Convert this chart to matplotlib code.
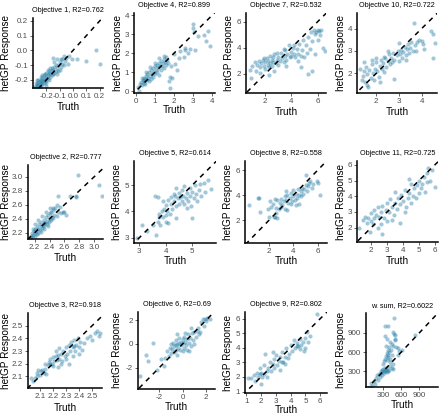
import numpy as np
import matplotlib.pyplot as plt

plt.rcParams['font.family'] = ['Liberation Sans', 'DejaVu Sans']
plt.rcParams['axes.unicode_minus'] = False

# ---- data (truth, hetGP response) ----
obj1_truth = [-0.29,-0.28,-0.28,-0.27,-0.27,-0.26,-0.26,-0.26,-0.25,-0.25,-0.25,-0.24,-0.24,-0.24,-0.24,-0.23,-0.23,-0.23,-0.22,-0.22,-0.22,-0.21,-0.21,-0.21,-0.2,-0.2,-0.2,-0.2,-0.19,-0.19,-0.19,-0.18,-0.18,-0.18,-0.17,-0.17,-0.16,-0.16,-0.15,-0.15,-0.14,-0.14,-0.13,-0.13,-0.12,-0.12,-0.11,-0.1,-0.1,-0.09,-0.08,-0.08,-0.07,-0.06,-0.05,-0.04,-0.03,-0.01,0.03,0.1,0.17,0.2,-0.17,-0.14,-0.11,-0.27,-0.23,-0.2,-0.16,-0.09,-0.15,-0.12,-0.07]
obj1_pred = [-0.25,-0.24,-0.22,-0.25,-0.23,-0.24,-0.22,-0.2,-0.25,-0.23,-0.21,-0.24,-0.22,-0.2,-0.18,-0.23,-0.21,-0.19,-0.22,-0.2,-0.17,-0.21,-0.19,-0.16,-0.22,-0.2,-0.18,-0.15,-0.19,-0.17,-0.13,-0.2,-0.16,-0.14,-0.18,-0.15,-0.17,-0.12,-0.16,-0.13,-0.15,-0.11,-0.14,-0.1,-0.12,-0.16,-0.1,-0.13,-0.08,-0.11,-0.09,-0.06,-0.1,-0.07,-0.05,-0.09,-0.04,-0.06,-0.06,-0.07,0.0,-0.09,-0.12,-0.08,-0.14,-0.2,-0.17,-0.24,-0.14,-0.06,-0.05,-0.06,-0.04]

obj4_truth = [0.1,0.2,0.25,0.3,0.35,0.4,0.4,0.45,0.5,0.5,0.55,0.6,0.6,0.65,0.7,0.7,0.75,0.8,0.8,0.85,0.9,0.9,0.95,1.0,1.0,1.05,1.1,1.1,1.15,1.2,1.2,1.25,1.3,1.3,1.35,1.4,1.45,1.5,1.55,1.6,1.6,1.65,1.7,1.75,1.8,1.8,1.9,2.05,2.15,2.25,2.5,2.55,2.75,2.85,3.1,3.0,3.0,3.05,3.25,3.55,3.7,3.8,3.9,0.15,0.3,0.55,0.75,1.0,1.2,1.45,1.85,2.0,2.3,2.6]
obj4_pred = [0.2,0.35,0.5,0.3,0.6,0.45,0.7,0.55,0.4,0.65,0.8,0.6,0.9,0.7,0.55,1.0,0.8,0.65,1.1,0.9,1.2,0.75,1.0,1.3,0.9,1.1,1.4,1.0,1.2,0.85,1.5,1.3,1.1,1.6,1.35,1.5,1.2,1.7,1.55,1.8,1.4,1.65,1.5,0.55,0.15,0.75,0.7,1.45,1.1,1.75,1.8,2.15,2.0,2.2,2.15,3.55,3.35,3.1,2.9,2.95,2.65,3.15,2.4,0.0,0.7,1.0,1.25,1.5,1.75,1.85,1.3,1.95,2.1,2.3]

obj7_truth = [0.8,0.9,1.0,1.2,1.3,1.4,1.5,1.6,1.6,1.7,1.8,1.9,2.0,2.0,2.1,2.2,2.2,2.3,2.3,2.4,2.4,2.5,2.5,2.6,2.7,2.7,2.8,2.9,3.0,3.0,3.1,3.2,3.3,3.4,3.5,3.5,3.6,3.7,3.8,3.9,4.0,4.0,4.1,4.2,4.3,4.4,4.5,4.6,4.7,4.7,4.8,4.9,5.0,5.1,5.2,5.3,5.3,5.4,5.5,5.6,5.6,5.7,5.8,5.9,6.0,6.1,6.2,6.3,6.4,6.6,5.8,6.0,4.2,3.4,2.9,4.5,3.6,2.6,1.9]
obj7_pred = [2.3,1.7,2.6,2.9,2.2,2.7,3.0,2.1,2.5,2.8,3.1,2.6,2.9,2.4,3.2,2.7,3.0,1.9,2.5,2.8,3.4,3.1,2.6,2.9,3.5,2.2,2.8,3.1,3.3,2.7,3.0,3.6,3.2,2.9,3.4,3.8,3.1,3.5,4.2,3.3,3.7,3.4,4.0,3.5,3.3,3.9,3.5,4.3,2.5,3.4,3.8,4.6,3.3,4.2,3.6,2.0,4.8,3.9,5.2,4.5,2.2,5.4,3.5,5.2,4.6,5.3,5.0,5.4,4.0,3.75,5.1,5.35,4.2,3.9,3.6,3.0,2.6,3.3,3.2]

obj10_truth = [1.3,1.35,1.4,1.45,1.5,1.55,1.6,1.6,1.65,1.7,1.75,1.8,1.85,1.9,1.95,2.0,2.05,2.1,2.15,2.2,2.25,2.3,2.35,2.4,2.45,2.5,2.55,2.6,2.65,2.7,2.75,2.8,2.8,2.9,2.95,3.0,3.05,3.1,3.15,3.2,3.25,3.3,3.35,3.4,3.45,3.5,3.55,3.6,3.65,3.7,3.8,3.9,4.0,4.05,4.1,4.4,4.5,4.6,4.5,3.0,2.5,2.0,1.8,2.35,3.3,3.75,1.45,2.15]
obj10_pred = [2.2,1.7,1.9,2.1,1.6,2.3,1.5,1.95,1.4,2.15,1.8,2.4,2.0,1.7,2.2,2.5,2.1,1.85,2.35,2.6,2.2,2.45,2.05,2.7,2.3,2.55,2.85,2.4,2.7,2.5,2.9,1.75,2.6,2.8,3.0,2.55,2.85,3.05,2.7,2.95,3.2,2.8,3.1,3.3,2.9,3.15,3.4,3.0,4.25,3.25,3.4,3.5,3.45,3.3,3.1,3.9,3.75,3.35,2.7,3.35,3.0,2.7,2.6,2.75,2.6,3.0,2.5,1.6]

obj2_truth = [2.14,2.15,2.16,2.17,2.18,2.19,2.2,2.2,2.21,2.22,2.23,2.24,2.25,2.26,2.27,2.28,2.29,2.3,2.31,2.32,2.33,2.34,2.35,2.36,2.37,2.38,2.39,2.4,2.41,2.42,2.43,2.44,2.45,2.46,2.48,2.5,2.52,2.54,2.56,2.58,2.6,2.2,2.25,2.3,2.35,2.4,2.45,2.28,2.33,2.38,2.52,2.67,2.76,2.76,2.78,3.07,3.1,2.18,2.23,2.32,2.42,2.5,2.62]
obj2_pred = [2.13,2.16,2.14,2.2,2.17,2.22,2.19,2.25,2.15,2.23,2.28,2.2,2.26,2.32,2.24,2.29,2.35,2.27,2.31,2.38,2.3,2.34,2.42,2.33,2.37,2.45,2.36,2.4,2.48,2.38,2.43,2.52,2.41,2.46,2.55,2.44,2.5,2.57,2.48,2.5,2.5,2.32,2.38,2.44,2.5,2.55,2.56,2.21,2.26,2.3,2.73,2.73,2.73,2.71,3.02,2.88,2.72,2.26,2.18,2.34,2.5,2.6,2.45]

obj5_truth = [2.9,3.1,3.3,3.5,3.65,3.7,3.6,3.7,3.75,3.8,3.85,3.9,3.95,4.0,4.0,4.05,4.1,4.15,4.2,4.2,4.25,4.3,4.35,4.4,4.4,4.45,4.5,4.5,4.55,4.6,4.6,4.65,4.7,4.7,4.75,4.8,4.85,4.9,4.9,4.95,5.0,5.0,5.05,5.1,5.15,5.2,5.25,5.3,5.35,5.45,5.5,5.6,5.7,4.0,4.3,3.9,4.8,4.4,4.1,3.75]
obj5_pred = [3.0,3.5,3.25,3.5,3.1,3.6,4.6,4.55,3.9,3.5,4.0,3.8,4.1,4.25,3.85,4.0,4.45,3.9,4.3,4.55,4.1,4.4,4.6,4.2,3.75,4.5,4.3,4.7,4.55,4.4,4.8,4.6,4.3,4.95,4.5,4.7,4.4,4.6,4.9,4.2,4.75,3.75,4.5,5.0,4.65,4.4,4.8,5.05,4.6,5.1,4.75,5.2,4.85,3.6,4.65,4.4,4.15,4.9,3.55,3.8]

obj8_truth = [0.4,1.1,1.2,1.3,2.0,2.1,2.15,2.3,2.4,2.5,2.6,2.6,2.7,2.8,2.9,3.0,3.1,3.2,3.3,3.3,3.4,3.5,3.6,3.7,3.8,3.9,4.0,4.0,4.1,4.2,4.3,4.4,4.5,4.5,4.6,4.7,4.8,4.9,5.0,5.0,5.1,5.2,5.3,5.4,5.5,5.6,5.9,6.0,6.2,3.5,2.7,4.2,3.0,3.8,4.6,2.5,1.9,3.4]
obj8_pred = [3.2,3.75,3.75,2.65,2.3,3.5,3.05,3.3,2.25,2.3,2.6,3.0,3.6,2.9,3.4,3.7,3.2,3.5,3.9,2.9,3.6,4.0,3.4,3.75,4.2,3.5,3.9,4.4,3.6,4.1,3.8,4.5,4.0,3.3,4.3,4.6,4.1,4.5,4.8,5.6,4.3,4.7,5.0,5.1,4.6,4.9,5.1,5.0,4.0,2.8,2.2,3.2,3.1,3.3,3.9,3.7,2.9,4.3]

obj11_truth = [1.25,1.5,1.6,1.7,1.8,1.9,1.95,2.0,2.1,2.15,2.2,2.3,2.4,2.4,2.5,2.6,2.7,2.7,2.8,2.9,3.0,3.0,3.1,3.2,3.3,3.4,3.5,3.5,3.6,3.7,3.8,3.8,3.9,4.0,4.1,4.2,4.3,4.4,4.5,4.5,4.6,4.7,4.8,4.9,5.0,5.0,5.1,5.2,5.3,5.4,5.5,5.6,5.7,5.8,6.0,4.1,3.3,2.6,4.4,5.5]
obj11_pred = [2.0,2.5,2.7,2.3,2.6,1.7,2.9,2.4,2.2,3.1,2.6,2.8,3.3,2.0,2.7,3.0,1.6,3.4,2.6,3.1,3.6,2.4,3.0,3.8,3.3,2.8,3.6,4.3,3.2,3.9,2.3,3.5,4.1,3.7,4.4,3.3,3.9,4.2,4.8,3.6,4.0,4.5,3.9,4.7,5.0,4.2,4.5,4.8,5.2,4.3,5.5,5.8,5.0,5.7,4.6,3.0,2.5,2.2,5.1,4.9]

obj3_truth = [2.035,2.045,2.06,2.075,2.08,2.09,2.1,2.11,2.12,2.13,2.14,2.15,2.16,2.17,2.18,2.19,2.2,2.21,2.22,2.22,2.23,2.24,2.25,2.25,2.26,2.27,2.28,2.29,2.3,2.31,2.32,2.32,2.33,2.34,2.35,2.36,2.37,2.38,2.39,2.4,2.41,2.42,2.44,2.46,2.48,2.5,2.52,2.54,2.55,2.56,2.2,2.26,2.3,2.35,2.4,2.24,2.18,2.14,2.36]
obj3_pred = [2.085,2.06,2.09,2.1,2.13,2.15,2.11,2.14,2.15,2.13,2.16,2.12,2.19,2.21,2.24,2.2,2.25,2.22,2.26,2.3,2.23,2.27,2.24,2.32,2.28,2.22,2.3,2.26,2.33,2.28,2.2,2.35,2.3,2.37,2.33,2.39,2.3,2.35,2.4,2.33,2.37,2.31,2.36,2.4,2.42,2.39,2.44,2.46,2.42,2.44,2.18,2.2,2.24,2.26,2.28,2.17,2.2,2.2,2.34]

obj6_truth = [-3.6,-3.1,-2.95,-2.55,-1.85,-1.6,-1.5,-1.3,-1.2,-1.1,-1.0,-0.9,-0.8,-0.75,-0.7,-0.6,-0.55,-0.5,-0.45,-0.4,-0.3,-0.3,-0.2,-0.15,-0.1,0.0,0.0,0.05,0.1,0.15,0.2,0.3,0.35,0.4,0.45,0.5,0.6,0.7,0.8,0.9,1.0,1.0,1.1,1.2,1.3,1.4,1.6,1.7,1.8,1.9,2.0,2.1,2.3,-2.2,-1.0,-0.5,0.2,-0.6,0.55,0.7,1.5]
obj6_pred = [-2.65,-0.95,-1.45,0.05,-1.3,-1.85,-1.2,-0.6,-1.0,-0.3,-0.8,-0.4,0.1,-0.7,-0.2,0.3,-0.5,0.0,-0.9,-0.3,0.5,0.1,-0.5,0.2,-0.1,0.4,-0.6,0.1,-0.3,0.6,0.2,-0.1,0.4,-0.5,0.8,0.1,0.5,-0.2,0.9,0.3,1.0,0.0,0.6,1.1,1.3,0.8,1.8,2.1,1.5,2.1,1.9,2.2,2.1,-2.2,0.0,0.8,0.9,-0.1,-0.6,1.3,1.0]

obj9_truth = [1.15,1.35,1.5,1.6,1.7,1.8,1.9,2.0,2.0,2.1,2.2,2.2,2.3,2.4,2.5,2.6,2.7,2.8,2.9,2.9,3.0,3.1,3.2,3.3,3.3,3.4,3.5,3.6,3.7,3.8,3.9,4.0,4.1,4.2,4.3,4.4,4.5,4.6,4.6,4.7,4.8,4.9,5.0,5.1,5.2,5.3,5.8,3.4,2.4,1.9,4.4,2.8,3.6,5.0]
obj9_pred = [1.95,1.95,2.1,1.7,2.3,2.0,2.6,1.5,2.3,2.0,2.8,2.2,3.6,2.4,2.6,3.0,2.4,2.9,2.6,3.2,3.5,2.8,3.1,3.4,2.5,3.7,3.0,3.4,4.0,3.3,3.6,4.2,3.8,4.5,4.0,4.3,4.1,4.6,3.9,4.2,4.4,3.8,4.7,5.1,4.4,4.8,6.3,3.0,2.0,2.2,4.1,3.7,2.9,4.0]

wsum_truth = [80,100,120,150,170,190,200,220,240,250,260,270,280,290,300,310,320,330,340,350,360,370,380,400,420,440,460,300,320,340,350,360,370,380,390,400,410,420,430,450,460,380,350,400,420,440,470,490,500,520,540,560,480,460,500,340,380,480,830,620,330,360,550]
wsum_pred = [60,120,80,150,110,200,240,170,260,220,300,280,320,250,340,300,270,360,310,330,290,350,300,320,380,360,340,420,460,500,540,580,480,520,560,600,450,500,640,560,420,640,700,680,760,730,700,800,780,680,660,620,880,910,860,1000,1000,1130,865,630,850,800,560]

titles = ["Objective 1, R2=0.762", "Objective 4, R2=0.899", "Objective 7, R2=0.532", "Objective 10, R2=0.722",
          "Objective 2, R2=0.777", "Objective 5, R2=0.614", "Objective 8, R2=0.558", "Objective 11, R2=0.725",
          "Objective 3, R2=0.918", "Objective 6, R2=0.69", "Objective 9, R2=0.802", "w. sum, R2=0.6022"]
truths = [obj1_truth, obj4_truth, obj7_truth, obj10_truth, obj2_truth, obj5_truth,
          obj8_truth, obj11_truth, obj3_truth, obj6_truth, obj9_truth, wsum_truth]
preds = [obj1_pred, obj4_pred, obj7_pred, obj10_pred, obj2_pred, obj5_pred,
         obj8_pred, obj11_pred, obj3_pred, obj6_pred, obj9_pred, wsum_pred]

# axis limits (x, y) and tick labels per panel
xlims = [(-0.3, 0.225), (-0.1, 4.15), (0.53, 6.65), (1.15, 4.68),
         (2.11, 3.12), (2.8, 5.9), (0.05, 6.75), (1.1, 6.2),
         (2.01, 2.575), (-3.8, 2.75), (0.92, 6.45), (20, 1205)]
ylims = [(-0.255, 0.22), (-0.1, 4.12), (0.53, 6.68), (1.12, 4.7),
         (2.11, 3.17), (2.8, 5.92), (0.2, 6.72), (1.08, 6.25),
         (2.008, 2.6), (-3.78, 2.68), (0.9, 6.45), (60, 1205)]
xticks = [[-0.2, -0.1, 0.0, 0.1, 0.2], [0, 1, 2, 3, 4], [2, 4, 6], [2, 3, 4],
          [2.2, 2.4, 2.6, 2.8, 3.0], [3, 4, 5], [2, 4, 6], [2, 3, 4, 5, 6],
          [2.1, 2.2, 2.3, 2.4, 2.5], [-2, 0, 2], [1, 2, 3, 4, 5, 6], [300, 600, 900]]
yticks = [[-0.2, -0.1, 0.0, 0.1, 0.2], [0, 1, 2, 3, 4], [2, 4, 6], [2, 3, 4],
          [2.2, 2.4, 2.6, 2.8, 3.0], [3, 4, 5], [2, 4, 6], [2, 3, 4, 5, 6],
          [2.1, 2.2, 2.3, 2.4, 2.5], [-2, 0, 2], [1, 2, 3, 4, 5, 6], [300, 600, 900]]
fmts = ["%.1f", "%d", "%d", "%d", "%.1f", "%d", "%d", "%d", "%.1f", "%d", "%d", "%d"]

# panel boxes in pixels: left, right, top, bottom
boxes = [(33, 103, 18, 88), (134, 215, 13, 93), (246, 326, 13, 93), (357, 437, 13, 93),
         (28, 103, 165, 239), (134, 216, 161, 243), (245, 327, 161, 243), (357, 438, 161, 242),
         (28, 102, 313, 388), (138, 215, 312, 389), (245, 327, 312, 393), (366, 438, 313, 387)]
# label centres in pixels
ylab_x = [6, 118, 229, 341, 6, 117, 228, 341, 6, 117, 228, 341]
xlab_y = [107, 110, 112, 112, 258, 261, 261, 261, 408, 407, 410, 405]

W, H = 440, 415
fig = plt.figure(figsize=(W / 100, H / 100), dpi=100)

for i in range(12):
    l, r, t, b = boxes[i]
    ax = fig.add_axes([l / W, 1 - b / H, (r - l) / W, (b - t) / H])
    ax.scatter(truths[i], preds[i], s=9, color='#1f7aa3', alpha=0.42, linewidths=0, zorder=2)
    lo = min(xlims[i][0], ylims[i][0]) - 10
    hi = max(xlims[i][1], ylims[i][1]) + 10
    ax.plot([lo, hi], [lo, hi], color='black', lw=1.1, ls=(0, (3.2, 3.2)), zorder=3)
    ax.set_xlim(xlims[i])
    ax.set_ylim(ylims[i])
    ax.set_xticks(xticks[i])
    ax.set_yticks(yticks[i])
    ax.set_xticklabels([fmts[i] % v for v in xticks[i]])
    ax.set_yticklabels([fmts[i] % v for v in yticks[i]])
    ax.tick_params(labelsize=5.8, colors='#4d4d4d', length=2.5, width=0.6, pad=1)
    for s in ['top', 'right']:
        ax.spines[s].set_visible(False)
    for s in ['left', 'bottom']:
        ax.spines[s].set_linewidth(1.1)
        ax.spines[s].set_color('black')
    ax.set_xlabel("Truth", fontsize=7.2)
    ax.set_ylabel("hetGP Response", fontsize=7.2)
    # place labels at the measured pixel spots (ylabel anchor = right edge, xlabel anchor = top)
    ax.yaxis.set_label_coords((ylab_x[i] + 5 - l) / (r - l), 0.5)
    ax.xaxis.set_label_coords(0.5, (b - (xlab_y[i] - 5)) / (b - t))
    ax.set_title(titles[i], fontsize=5.2, pad=4)

fig.savefig("out.png", dpi=100)
